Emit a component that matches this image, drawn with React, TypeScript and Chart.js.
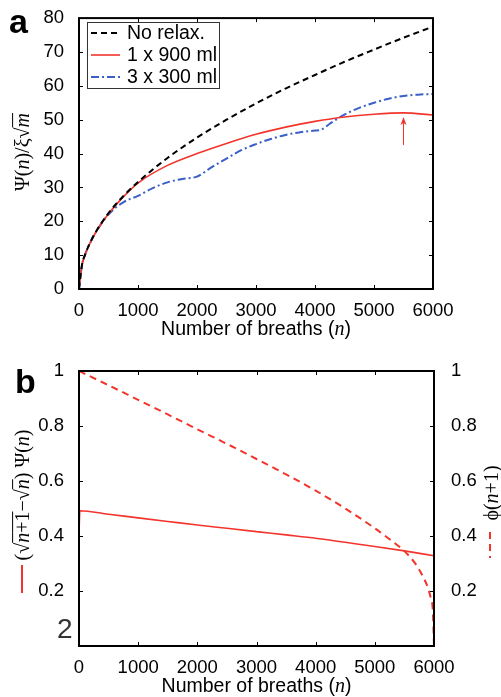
import React, { useEffect, useRef } from 'react';
import { Chart, registerables } from 'chart.js';
Chart.register(...registerables);

const SANS = "'Liberation Sans', Arial, Helvetica, sans-serif";
const SERIF = "'Liberation Serif', 'Times New Roman', 'DejaVu Serif', serif";
const RED = '#f2352c';
const BLUE = '#3a5fc8';

// Panel a data
const breathsA = [0, 50, 100, 200, 300, 500, 750, 1000, 1500, 2000, 2500, 3000, 3500, 4000, 4500, 5000, 5500, 6000];
const noRelax = [0, 7, 10, 14.1, 17.3, 22.4, 27.4, 31.6, 38.7, 44.7, 50, 54.8, 59.2, 63.2, 67.1, 70.7, 74.2, 77.5];
const single900 = [0, 7, 10, 14, 17.2, 22.2, 27.2, 31.3, 36.5, 40, 43, 45.7, 47.8, 49.5, 50.8, 51.6, 52, 51.4];
const breathsBlue = [0, 50, 100, 200, 300, 500, 750, 1000, 1250, 1500, 1750, 2000, 2250, 2500, 2750, 3000, 3250, 3500, 3750, 4000, 4100, 4250, 4500, 4750, 5000, 5250, 5500, 5750, 6000];
const triple300 = [0, 7, 10, 14, 17.2, 22, 25.6, 27.5, 29.8, 31.5, 32.5, 33.2, 36, 38.5, 41, 42.8, 44.3, 45.5, 46.3, 46.8, 47, 48.8, 51.5, 53.5, 55, 56.2, 57, 57.4, 57.6];
const seriesLabels = ['No relax.', '1 x 900 ml', '3 x 300 ml'];
const arrowN = 5500;
const arrowFrom = 42.5;
const arrowTo = 50.8;

// Panel b data
const breathsB = [0, 15, 500, 1000, 1500, 2000, 2500, 3000, 3500, 4000, 4500, 5000, 5500, 6000];
const incrementRatio = [0.41, 0.492, 0.479, 0.466, 0.453, 0.44, 0.428, 0.416, 0.404, 0.392, 0.377, 0.362, 0.346, 0.328];
const breathsPhi = [0, 500, 1000, 1500, 2000, 2500, 3000, 3500, 4000, 4500, 5000, 5300, 5500, 5700, 5800, 5900, 5950, 5980, 6000];
const phiNext = [1.0, 0.948, 0.895, 0.842, 0.788, 0.735, 0.68, 0.624, 0.565, 0.5, 0.428, 0.38, 0.345, 0.295, 0.258, 0.21, 0.17, 0.13, 0.0];

const xTicks = { min: 0, max: 6000, step: 1000 };

const pts = (xs: number[], ys: number[]) => xs.map((x, i) => ({ x, y: ys[i] }));

type Piece = { t: string; f: string; over?: boolean; size: number };

function drawRich(ctx: CanvasRenderingContext2D, pieces: Piece[], cx: number, cy: number, rotate: boolean, color = '#000') {
  ctx.save();
  ctx.translate(cx, cy);
  if (rotate) ctx.rotate(-Math.PI / 2);
  let w = 0;
  for (const p of pieces) { ctx.font = p.f; w += ctx.measureText(p.t).width; }
  let x = -w / 2;
  ctx.textBaseline = 'alphabetic';
  ctx.textAlign = 'left';
  ctx.fillStyle = color;
  ctx.strokeStyle = color;
  for (const p of pieces) {
    ctx.font = p.f;
    const pw = ctx.measureText(p.t).width;
    const base = p.size * 0.33;
    ctx.fillText(p.t, x, base);
    if (p.over) {
      ctx.lineWidth = 1;
      ctx.beginPath();
      ctx.moveTo(x, base - p.size * 0.8);
      ctx.lineTo(x + pw, base - p.size * 0.8);
      ctx.stroke();
    }
    x += pw;
  }
  ctx.restore();
}

const S = 20;
const serif = `${S}px ${SERIF}`;
const ital = `italic ${S}px ${SERIF}`;
const sansT = `19.5px ${SANS}`;
const italT = `italic 20px ${SERIF}`;

const xTitle: Piece[] = [
  { t: 'Number of breaths (', f: sansT, size: 19.5 },
  { t: 'n', f: italT, size: 19.5 },
  { t: ')', f: sansT, size: 19.5 },
];

function line(ctx: CanvasRenderingContext2D, x1: number, y1: number, x2: number, y2: number) {
  ctx.beginPath(); ctx.moveTo(x1, y1); ctx.lineTo(x2, y2); ctx.stroke();
}

function drawFrame(chart: any, yKeys: string[], rightKey: string | null) {
  const { ctx, chartArea: a, scales } = chart;
  ctx.save();
  ctx.strokeStyle = '#000';
  ctx.lineWidth = 1;
  const TL = 4;
  scales.x.ticks.forEach((t: any) => {
    const px = Math.round(scales.x.getPixelForValue(t.value)) + 0.5;
    line(ctx, px, a.bottom, px, a.bottom - TL);
    line(ctx, px, a.top, px, a.top + TL);
  });
  const ly = scales[yKeys[0]];
  ly.ticks.forEach((t: any) => {
    const py = Math.round(ly.getPixelForValue(t.value)) + 0.5;
    line(ctx, a.left, py, a.left + TL, py);
    if (!rightKey) line(ctx, a.right, py, a.right - TL, py);
  });
  if (rightKey) {
    const ry = scales[rightKey];
    ry.ticks.forEach((t: any) => {
      const py = Math.round(ry.getPixelForValue(t.value)) + 0.5;
      line(ctx, a.right, py, a.right - TL, py);
    });
  }
  ctx.lineWidth = 2;
  ctx.strokeRect(a.left, a.top, a.right - a.left, a.bottom - a.top);
  ctx.restore();
}

const panelAPlugin = {
  id: 'panelA',
  afterDraw(chart: any) {
    const { ctx, chartArea: a, scales } = chart;
    drawFrame(chart, ['y'], null);
    ctx.save();
    // legend
    ctx.strokeStyle = '#333';
    ctx.lineWidth = 1;
    ctx.fillStyle = '#fff';
    ctx.fillRect(87.5, 22.5, 132, 66);
    ctx.strokeRect(87.5, 22.5, 132, 66);
    const rows = [33, 55, 77];
    chart.data.datasets.forEach((ds: any, i: number) => {
      ctx.strokeStyle = ds.borderColor;
      ctx.lineWidth = ds.borderWidth;
      ctx.setLineDash(ds.borderDash || []);
      line(ctx, 91, rows[i], 120, rows[i]);
      ctx.setLineDash([]);
      ctx.fillStyle = '#000';
      ctx.font = sansT;
      ctx.textBaseline = 'middle';
      ctx.textAlign = 'left';
      ctx.fillText(ds.label, 127, rows[i] + 1);
    });
    // arrow
    const ax = scales.x.getPixelForValue(arrowN);
    const y1 = scales.y.getPixelForValue(arrowFrom);
    const y2 = scales.y.getPixelForValue(arrowTo);
    ctx.strokeStyle = RED;
    ctx.fillStyle = RED;
    ctx.lineWidth = 1;
    line(ctx, ax, y1, ax, y2 + 3);
    ctx.beginPath();
    ctx.moveTo(ax, y2);
    ctx.lineTo(ax - 3, y2 + 8);
    ctx.lineTo(ax, y2 + 6);
    ctx.lineTo(ax + 3, y2 + 8);
    ctx.closePath();
    ctx.fill();
    // panel letter
    ctx.fillStyle = '#000';
    ctx.font = `bold 34px ${SANS}`;
    ctx.textAlign = 'left';
    ctx.textBaseline = 'alphabetic';
    ctx.fillText('a', 9, 33);
    ctx.restore();
    // axis titles
    drawRich(ctx, xTitle, (a.left + a.right) / 2, 329, false);
    drawRich(ctx, [
      { t: 'Ψ(', f: serif, size: S },
      { t: 'n', f: ital, size: S },
      { t: ')/ξ√', f: serif, size: S },
      { t: 'm', f: ital, size: S, over: true },
    ], 22, 152, true);
  },
};

const panelBPlugin = {
  id: 'panelB',
  afterDraw(chart: any) {
    const { ctx, chartArea: a } = chart;
    drawFrame(chart, ['y'], 'y1');
    ctx.save();
    ctx.fillStyle = '#000';
    ctx.font = `bold 34px ${SANS}`;
    ctx.textAlign = 'left';
    ctx.textBaseline = 'alphabetic';
    ctx.fillText('b', 15, 48);
    ctx.fillStyle = '#333';
    ctx.font = `28px ${SANS}`;
    ctx.fillText('2', 57, 293);
    // legend samples
    ctx.strokeStyle = RED;
    ctx.lineWidth = 2;
    line(ctx, 22, 220, 22, 248);
    ctx.setLineDash([7, 5]);
    line(ctx, 490, 187, 490, 213);
    ctx.setLineDash([]);
    ctx.restore();
    drawRich(ctx, xTitle, (a.left + a.right) / 2, 341, false);
    drawRich(ctx, [
      { t: '(√', f: serif, size: S },
      { t: 'n', f: ital, size: S, over: true },
      { t: '+1', f: serif, size: S, over: true },
      { t: '−√', f: serif, size: S },
      { t: 'n', f: ital, size: S, over: true },
      { t: ') Ψ(', f: serif, size: S },
      { t: 'n', f: ital, size: S },
      { t: ')', f: serif, size: S },
    ], 22, 150, true);
    drawRich(ctx, [
      { t: 'ϕ(', f: serif, size: S },
      { t: 'n', f: ital, size: S },
      { t: '+1)', f: serif, size: S },
    ], 491, 148, true);
  },
};

const tickFont = { family: SANS, size: 18.5 };
const plainNum = (v: any) => String(v);

function PanelA() {
  const ref = useRef<HTMLCanvasElement>(null);
  useEffect(() => {
    const chart = new Chart(ref.current!, {
      type: 'line',
      data: {
        datasets: [
          { label: seriesLabels[0], data: pts(breathsA, noRelax), borderColor: '#000', borderWidth: 2, borderDash: [6, 4], pointRadius: 0, fill: false, cubicInterpolationMode: 'monotone' },
          { label: seriesLabels[1], data: pts(breathsA, single900), borderColor: RED, borderWidth: 1.6, borderDash: [], pointRadius: 0, fill: false, cubicInterpolationMode: 'monotone' },
          { label: seriesLabels[2], data: pts(breathsBlue, triple300), borderColor: BLUE, borderWidth: 2, borderDash: [8, 3, 2, 3], pointRadius: 0, fill: false, cubicInterpolationMode: 'monotone' },
        ] as any,
      },
      options: {
        animation: false,
        responsive: false,
        maintainAspectRatio: false,
        layout: { padding: { top: 14, right: 68, left: 0, bottom: 0 } },
        plugins: { legend: { display: false }, tooltip: { enabled: false } },
        scales: {
          x: {
            type: 'linear', min: xTicks.min, max: xTicks.max,
            ticks: { stepSize: xTicks.step, color: '#000', font: tickFont, padding: 3, maxRotation: 0, autoSkip: false, callback: plainNum },
            grid: { display: false }, border: { display: false },
            afterFit: (s: any) => { s.height = 56; },
          },
          y: {
            min: 0, max: 80,
            ticks: { stepSize: 10, color: '#000', font: tickFont, padding: 7, callback: plainNum },
            grid: { display: false }, border: { display: false },
            afterFit: (s: any) => { s.width = 79; },
          },
        },
      } as any,
      plugins: [panelAPlugin],
    });
    return () => chart.destroy();
  }, []);
  return <canvas ref={ref} width={501} height={345} style={{ position: 'absolute', left: 0, top: 0, width: 501, height: 345 }} />;
}

function PanelB() {
  const ref = useRef<HTMLCanvasElement>(null);
  useEffect(() => {
    const hideZero = (v: any) => (v === 0 ? '' : String(Math.round(v * 10) / 10));
    const chart = new Chart(ref.current!, {
      type: 'line',
      data: {
        datasets: [
          { label: 'increment', data: pts(breathsB, incrementRatio), borderColor: RED, borderWidth: 1.6, pointRadius: 0, fill: false, yAxisID: 'y', cubicInterpolationMode: 'monotone' },
          { label: 'phi', data: pts(breathsPhi, phiNext), borderColor: RED, borderWidth: 2, borderDash: [7, 5], pointRadius: 0, fill: false, yAxisID: 'y1', cubicInterpolationMode: 'monotone' },
        ] as any,
      },
      options: {
        animation: false,
        responsive: false,
        maintainAspectRatio: false,
        layout: { padding: { top: 26, right: 0, left: 0, bottom: 0 } },
        plugins: { legend: { display: false }, tooltip: { enabled: false } },
        scales: {
          x: {
            type: 'linear', min: xTicks.min, max: xTicks.max,
            ticks: { stepSize: xTicks.step, color: '#000', font: tickFont, padding: 3, maxRotation: 0, autoSkip: false, callback: plainNum },
            grid: { display: false }, border: { display: false },
            afterFit: (s: any) => { s.height = 51; },
          },
          y: {
            position: 'left', min: 0, max: 1,
            ticks: { stepSize: 0.2, color: '#000', font: tickFont, padding: 7, callback: hideZero },
            grid: { display: false }, border: { display: false },
            afterFit: (s: any) => { s.width = 79; },
          },
          y1: {
            position: 'right', min: 0, max: 1,
            ticks: { stepSize: 0.2, color: '#000', font: tickFont, padding: 9, callback: hideZero },
            grid: { display: false }, border: { display: false },
            afterFit: (s: any) => { s.width = 67; },
          },
        },
      } as any,
      plugins: [panelBPlugin],
    });
    return () => chart.destroy();
  }, []);
  return <canvas ref={ref} width={501} height={352} style={{ position: 'absolute', left: 0, top: 345, width: 501, height: 352 }} />;
}

export default function App() {
  return (
    <div style={{ position: 'absolute', left: 0, top: 0, width: 501, height: 697, background: '#fff' }}>
      <PanelA />
      <PanelB />
    </div>
  );
}
